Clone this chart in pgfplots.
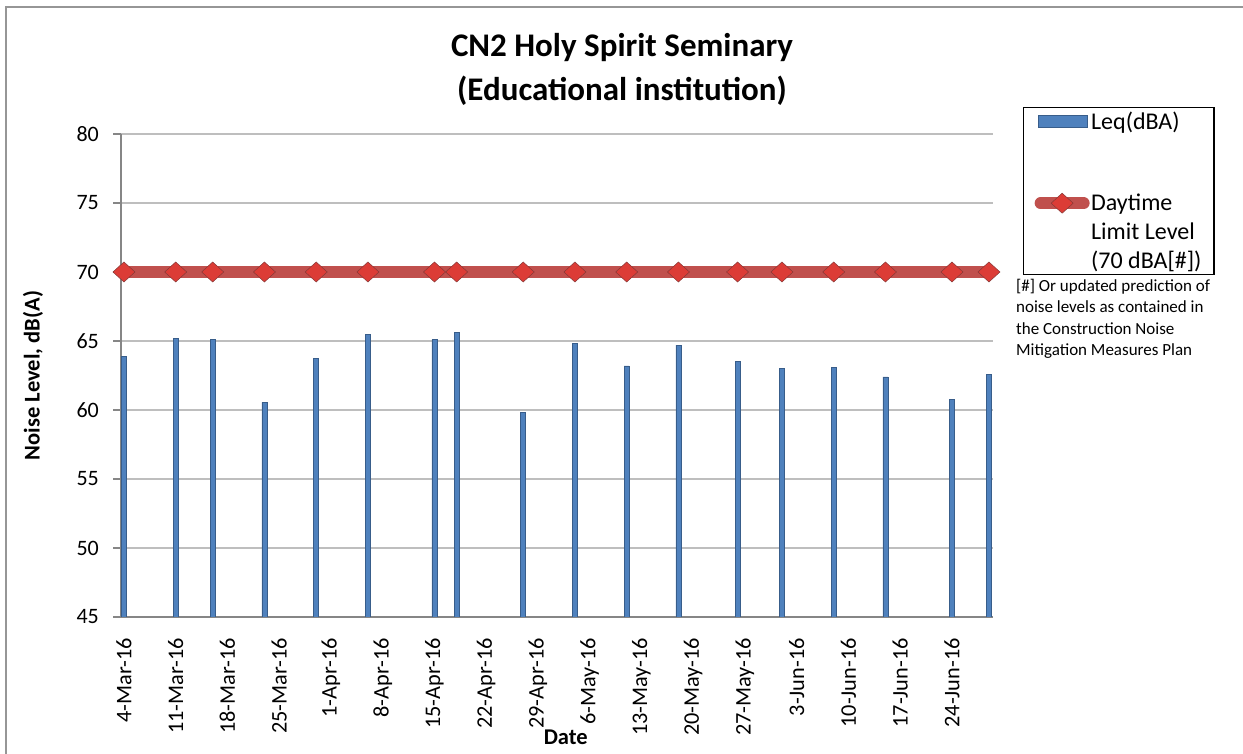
\documentclass[border=0pt]{standalone}
\usepackage{pgfplots}
\usepackage{pgfplotstable}
\pgfplotsset{compat=1.18}
\usepackage{fontspec}
\setmainfont{Carlito}
\definecolor{barblue}{HTML}{4F81BD}
\definecolor{baredge}{HTML}{385D8A}
\definecolor{limred}{HTML}{C0504D}
\definecolor{mkred}{HTML}{DC3C36}
\definecolor{gridgray}{RGB}{190,190,190}
\definecolor{axgray}{RGB}{134,134,134}
\definecolor{framegray}{RGB}{150,150,150}

\pgfplotstableread{
day value
0 63.9
7 65.2
12 65.1
19 60.55
26 63.75
33 65.5
42 65.1
45 65.6
54 59.8
61 64.85
68 63.2
75 64.7
83 63.55
89 63.0
96 63.07
103 62.4
112 60.77
117 62.6
}\leqdata

\pgfplotstableread{
day value
0 70
7 70
12 70
19 70
26 70
33 70
42 70
45 70
54 70
61 70
68 70
75 70
83 70
89 70
96 70
103 70
112 70
117 70
}\limdata

\pgfplotsset{
  barlegend/.style={legend image code/.code={\draw[fill=barblue,draw=baredge,line width=0.6pt] (4pt,-6pt) rectangle (53pt,6pt);}},
  limlegend/.style={legend image code/.code={\draw[mark repeat=2,mark phase=2,##1] plot coordinates {(6pt,29pt) (27.5pt,29pt) (49pt,29pt)};}},
}

\begin{document}
\begin{tikzpicture}[x=1pt,y=1pt]
\useasboundingbox (0,0) rectangle (1243,754);
\draw[framegray, line width=2pt] (6,-5) -- (6,747) -- (1250,747);
\pgfplotsset{base/.style={width=872pt,height=483pt,scale only axis,
  xmin=-0.4,xmax=117.55,ymin=45,ymax=80, at={(121pt,137pt)}, anchor=south west}}
\begin{axis}[base,
  axis x line*=bottom, axis y line*=left,
  axis line style={axgray, line width=1.3pt, -},
  ytick={45,50,...,80},
  xtick={0,7,...,112},
  xticklabels={4-Mar-16,11-Mar-16,18-Mar-16,25-Mar-16,1-Apr-16,8-Apr-16,15-Apr-16,22-Apr-16,29-Apr-16,6-May-16,13-May-16,20-May-16,27-May-16,3-Jun-16,10-Jun-16,17-Jun-16,24-Jun-16},
  xtick style={draw=none},
  ytick style={axgray, line width=1.2pt},
  tick align=outside, major tick length=8pt,
  ymajorgrids, grid style={gridgray, line width=1.2pt},
  /pgf/number format/assume math mode=true,
  yticklabel style={font=\fontsize{22}{22}\selectfont, anchor=east, inner sep=0pt},
  xticklabel style={font=\fontsize{22.3}{23}\selectfont, rotate=90, anchor=east, inner sep=0pt},
  xticklabel shift=13pt,
  yticklabel shift=14pt,
  xlabel={Date}, ylabel={Noise Level, dB(A)},
  every axis x label/.style={at={(axis description cs:0.510,-0.250)}, anchor=center, font=\bfseries\fontsize{22.5}{24}\selectfont},
  every axis y label/.style={at={(axis description cs:-0.101,0.5)}, anchor=center, rotate=90, font=\bfseries\fontsize{22.5}{24}\selectfont},
]
\addplot[ybar, bar width=0.68, fill=barblue, draw=baredge, line width=0.6pt] table[x=day,y=value]{\leqdata};
\end{axis}
\begin{axis}[base, clip=false, hide axis,
  legend style={at={(axis description cs:1.0344,1.056)}, anchor=north west,
    draw=black, line width=1.3pt, fill=white,
    font=\fontsize{24}{29}\selectfont,
    nodes={inner sep=1.5pt}, inner xsep=11pt, inner ysep=3pt,
    row sep=60pt,
    cells={anchor=west, align=left}},
]
\addlegendimage{barlegend}
\addlegendentry{Leq(dBA)}
\addplot[limred, line width=12pt, line cap=round, mark=diamond*, mark size=10pt,
  mark options={fill=mkred, draw=limred!70!black, line width=0.5pt, xscale=1.47},
  limlegend]
  table[x=day,y=value]{\limdata};
\addlegendentry{Daytime\\Limit Level\\(70 dBA[\#])}
\end{axis}
\node[font=\bfseries\fontsize{33}{36}\selectfont, anchor=base, inner sep=0pt] at (622,697) {CN2 Holy Spirit Seminary};
\node[font=\bfseries\fontsize{33}{36}\selectfont, anchor=base, inner sep=0pt] at (622,653) {(Educational institution)};
\node[font=\fontsize{17}{21.3}\selectfont, align=left, anchor=north west, inner sep=0pt] at (1016,475) {[\#] Or updated prediction of\\noise levels as contained in\\the Construction Noise\\Mitigation Measures Plan};
\end{tikzpicture}
\end{document}
